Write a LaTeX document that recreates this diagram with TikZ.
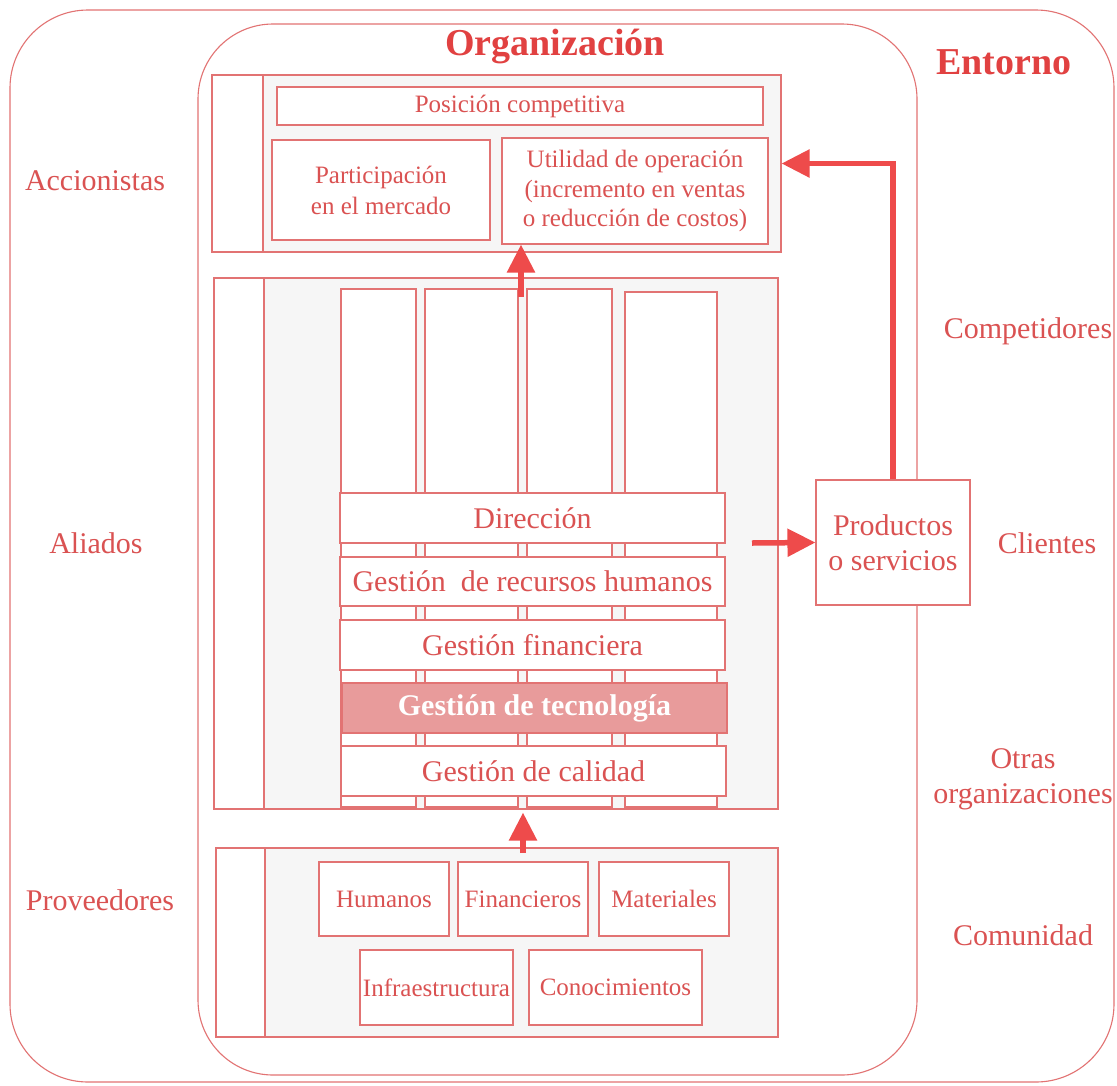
\documentclass[tikz,border=0pt]{standalone}
\usepackage{fontspec}
\setmainfont{Liberation Serif}
\usetikzlibrary{arrows.meta}
\definecolor{linec}{RGB}{226,115,115}
\definecolor{textc}{RGB}{218,82,82}
\definecolor{headc}{RGB}{225,65,65}
\definecolor{arrc}{RGB}{238,75,75}
\definecolor{techc}{RGB}{232,155,155}
\definecolor{panelc}{RGB}{246,246,246}
\newcommand\myfs[2]{\fontsize{#1}{#2}\selectfont}
\tikzset{
  ln/.style={draw=linec, line width=1.1pt},
  rbox/.style={ln, rounded corners=78pt, inner sep=0pt},
  panelbox/.style={ln, fill=panelc, inner sep=0pt},
  colbox/.style={ln, fill=white, inner sep=0pt, minimum width=0pt},
  wbox/.style={ln, fill=white, inner sep=0pt, align=center, text=textc},
  smalltxt/.style={font=\myfs{25}{30}},
  bigtxt/.style={font=\myfs{30}{35}},
  lbl/.style={text=textc, font=\myfs{30}{35}, align=center, inner sep=0pt, anchor=base},
  headtxt/.style={text=headc, font=\bfseries\myfs{38}{42}, inner sep=0pt, anchor=base},
  bigarrow/.style={draw=arrc, line width=5.5pt, -{Triangle[length=28pt, width=27pt]}},
}
\begin{document}
\begin{tikzpicture}[x=1pt, y=-1pt]
\useasboundingbox (0,0) rectangle (1117,1085);
\fill[white] (0,0) rectangle (1117,1085);

% outer and inner rounded frames
\node[rbox, minimum width=1104pt, minimum height=1072pt] (env) at (562,546) {};
\node[rbox, rounded corners=75pt, minimum width=719pt, minimum height=1051pt] (org) at (557.5,549.5) {};

% headings
\node[headtxt] (orgt) at (555,55) {Organización};
\node[headtxt] (entt) at (1004,74) {Entorno};

% side labels
\node[lbl] (acc) at (95,190) {Accionistas};
\node[lbl] (ali) at (96,553) {Aliados};
\node[lbl] (prov) at (100,910) {Proveedores};
\node[lbl] (comp) at (1028,338) {Competidores};
\node[lbl] (cli) at (1047,553) {Clientes};
\node[lbl] (otr) at (1023,803) {Otras\\organizaciones};
\node[lbl] (comu) at (1023,945) {Comunidad};

% top panel
\node[panelbox, minimum width=569pt, minimum height=177pt] (top) at (496.5,163.5) {};
\node[ln, fill=white, inner sep=0pt, minimum width=51pt, minimum height=177pt, anchor=north west] (topL) at (top.north west) {};
\node[wbox, smalltxt, minimum width=486pt, minimum height=38pt] (pos) at (520,106) {Posición competitiva};
\node[wbox, font=\myfs{25}{31}, minimum width=218pt, minimum height=100pt] (part) at (381,190) {Participación\\en el mercado};
\node[wbox, font=\myfs{25}{29.5}, minimum width=266pt, minimum height=106pt] (util) at (635,191) {Utilidad de operación\\(incremento en ventas\\o reducción de costos)};

% middle panel
\node[panelbox, minimum width=564pt, minimum height=531pt] (mid) at (496,543.5) {};
\node[ln, fill=white, inner sep=0pt, minimum width=50pt, minimum height=531pt, anchor=north west] (midL) at (mid.north west) {};
\node[colbox, minimum width=75pt, minimum height=518pt] (c1) at (378.5,548) {};
\node[colbox, minimum width=93pt, minimum height=518pt] (c2) at (471.5,548) {};
\node[colbox, minimum width=85pt, minimum height=518pt] (c3) at (569.5,548) {};
\node[colbox, minimum width=92pt, minimum height=515pt] (c4) at (671,549.5) {};

\node[wbox, bigtxt, minimum width=385pt, minimum height=50pt] (dir) at (532.5,518) {Dirección};
\node[wbox, bigtxt, minimum width=385pt, minimum height=49pt] (rh) at (532.5,581.5) {Gestión~ de recursos humanos};
\node[wbox, bigtxt, minimum width=385pt, minimum height=50pt] (fin) at (532.5,645) {Gestión financiera};
\node[ln, fill=techc, text=white, inner sep=0pt, font=\bfseries\myfs{30}{35}, minimum width=385pt, minimum height=50pt] (tec) at (534.5,708) {Gestión de tecnología};
\node[wbox, bigtxt, minimum width=385pt, minimum height=50pt] (cal) at (533.5,771) {Gestión de calidad};

% bottom panel
\node[panelbox, minimum width=562pt, minimum height=189pt] (bot) at (497,942.5) {};
\node[ln, fill=white, inner sep=0pt, minimum width=49pt, minimum height=189pt, anchor=north west] (botL) at (bot.north west) {};
\node[wbox, smalltxt, minimum width=130pt, minimum height=74pt] (hum) at (384,899) {Humanos};
\node[wbox, smalltxt, minimum width=130pt, minimum height=74pt] (finr) at (523,899) {Financieros};
\node[wbox, smalltxt, minimum width=130pt, minimum height=74pt] (mat) at (664,899) {Materiales};
\node[wbox, smalltxt, minimum width=153pt, minimum height=75pt] (inf) at (436.5,987.5) {Infraestructura};
\node[wbox, smalltxt, minimum width=173pt, minimum height=75pt] (con) at (615.5,987.5) {Conocimientos};

% products box (covers the frame line)
\node[wbox, font=\myfs{30}{35}, minimum width=154pt, minimum height=125pt] (prod) at (893,542.5) {Productos\\o servicios};

% arrows
\coordinate (a1) at (521,297);
\coordinate (a2) at (523,853);
\coordinate (pin) at (752,543);
\draw[bigarrow] (a1) -- (a1 |- util.south);
\draw[bigarrow, shorten >=3pt] (a2) -- (a2 |- mid.south);
\draw[bigarrow] (pin) -- (prod.west);
\draw[bigarrow] (prod.north) -- (prod.north |- top.east) -- (top.east);
\end{tikzpicture}
\end{document}
